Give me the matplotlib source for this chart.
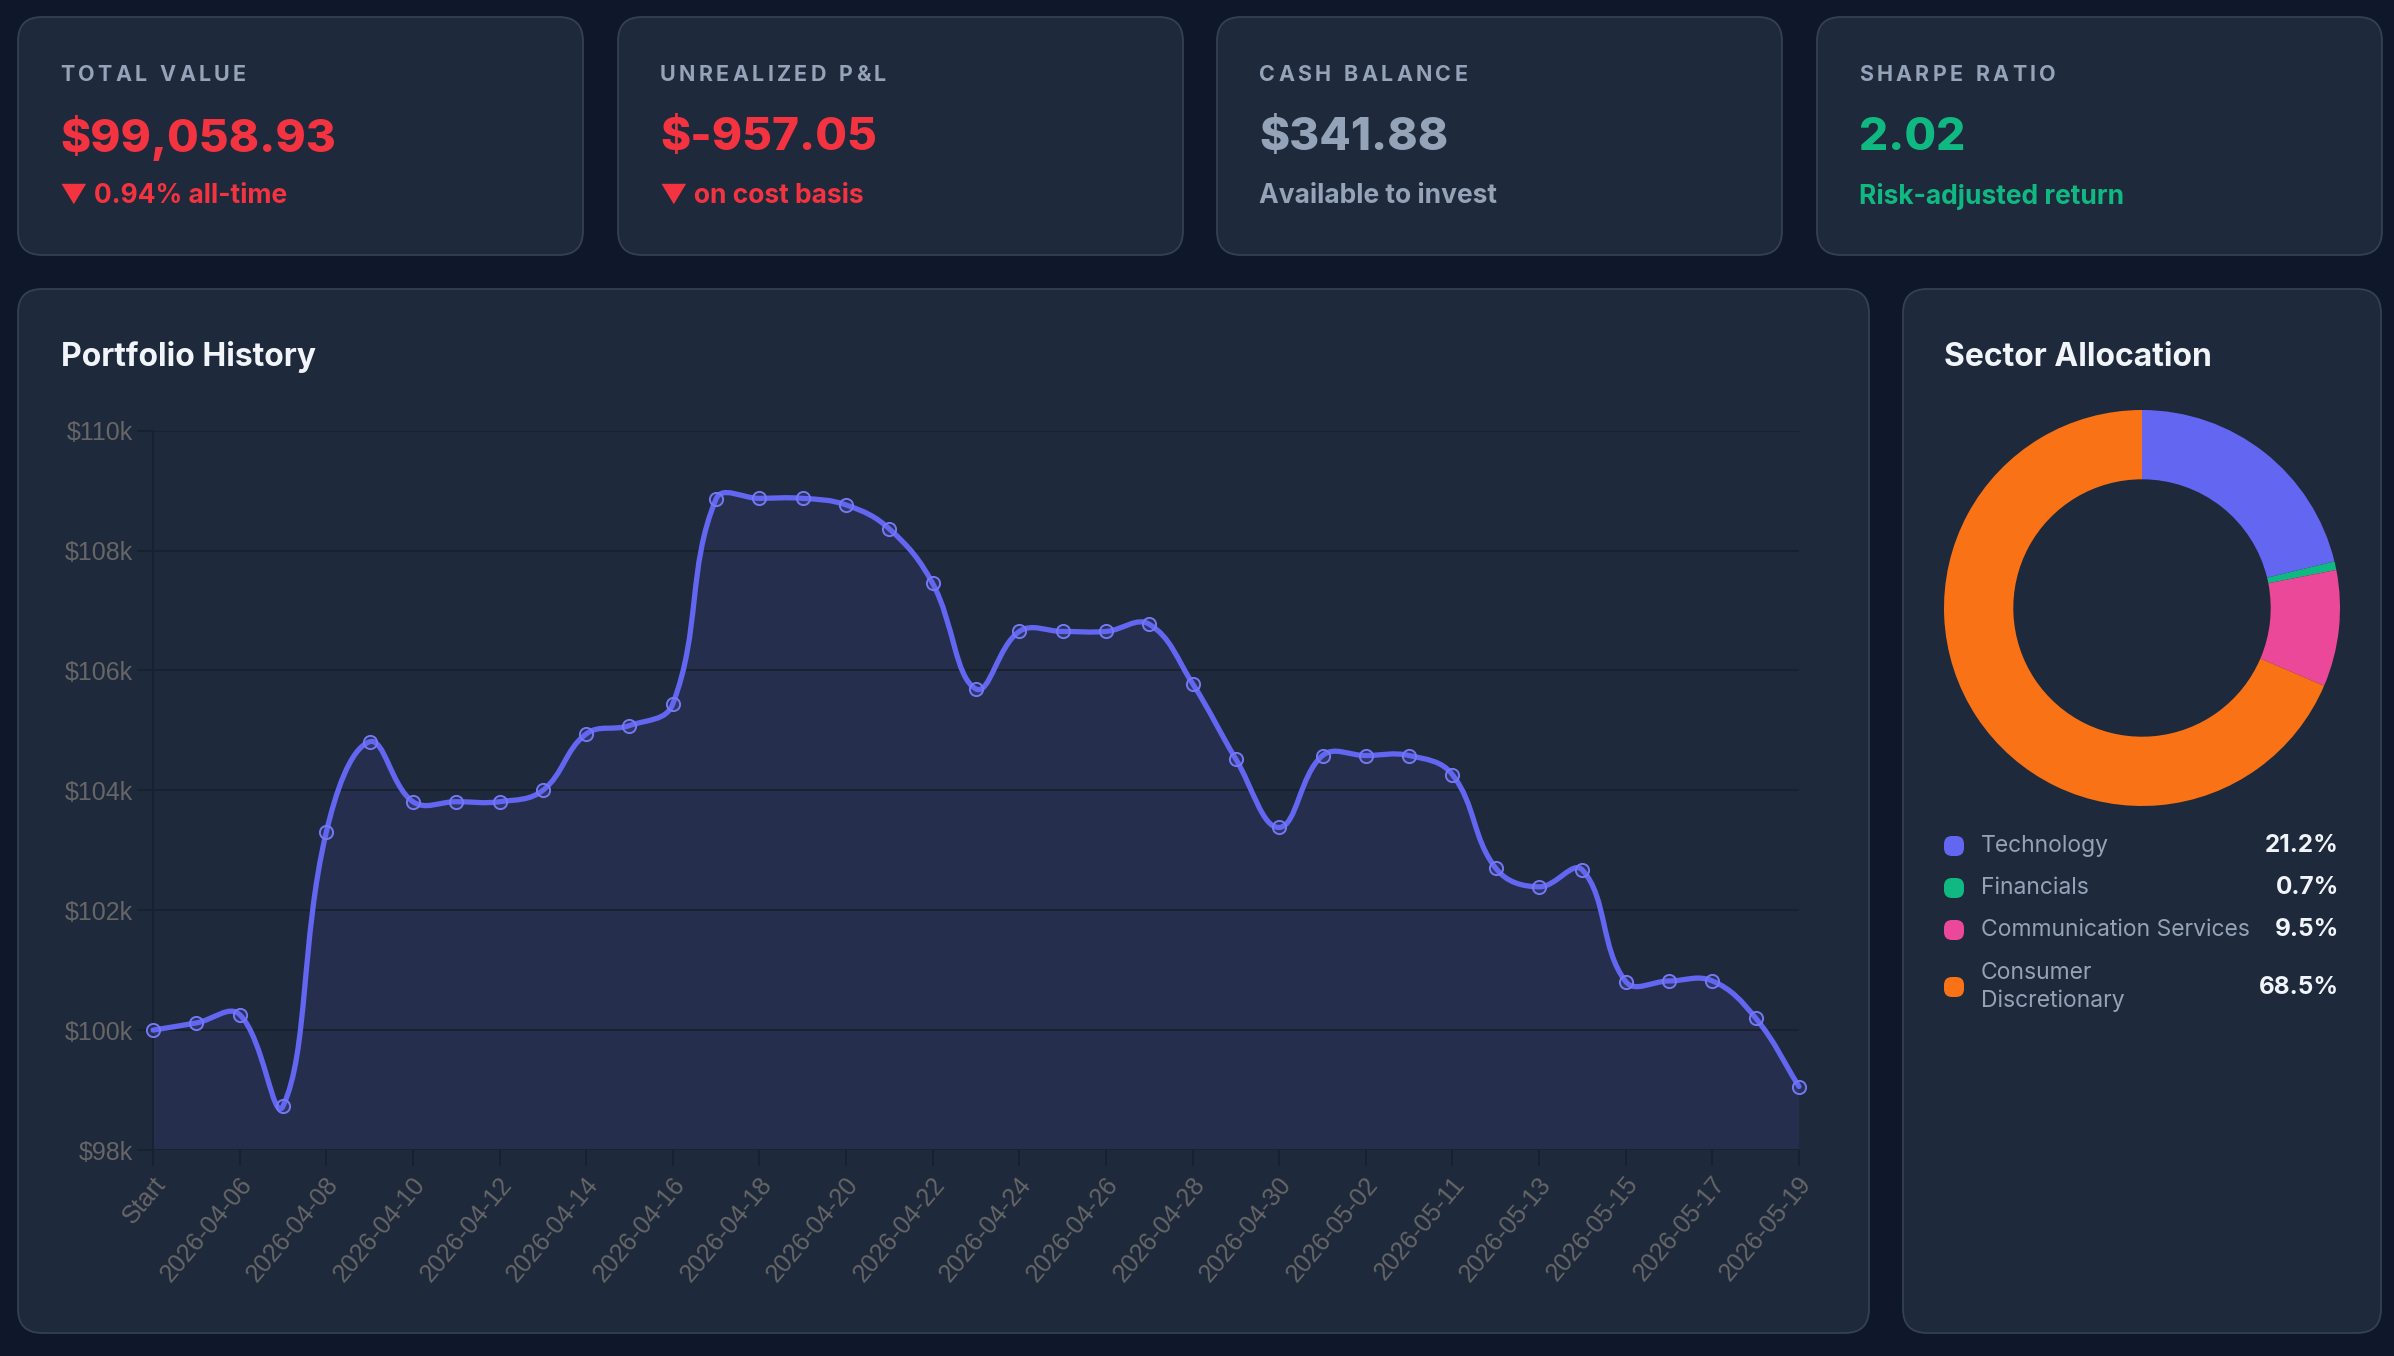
import matplotlib
matplotlib.use('Agg')
import matplotlib.pyplot as plt
from matplotlib.patches import FancyBboxPatch, PathPatch
from matplotlib.path import Path
from matplotlib.transforms import ScaledTranslation
import numpy as np

# ---------------- data ----------------
kpi_labels = ['TOTAL VALUE', 'UNREALIZED P&L', 'CASH BALANCE', 'SHARPE RATIO']
kpi_values = ['$99,058.93', '$-957.05', '$341.88', '2.02']
kpi_subs = ['▼ 0.94% all-time', '▼ on cost basis', 'Available to invest', 'Risk-adjusted return']

dates = ['Start', '2026-04-05', '2026-04-06', '2026-04-07', '2026-04-08', '2026-04-09',
         '2026-04-10', '2026-04-11', '2026-04-12', '2026-04-13', '2026-04-14', '2026-04-15',
         '2026-04-16', '2026-04-17', '2026-04-18', '2026-04-19', '2026-04-20', '2026-04-21',
         '2026-04-22', '2026-04-23', '2026-04-24', '2026-04-25', '2026-04-26', '2026-04-27',
         '2026-04-28', '2026-04-29', '2026-04-30', '2026-05-01', '2026-05-02', '2026-05-10',
         '2026-05-11', '2026-05-12', '2026-05-13', '2026-05-14', '2026-05-15', '2026-05-16',
         '2026-05-17', '2026-05-18', '2026-05-19']
portfolio_values = [100000, 100120, 100260, 98730, 103300, 104810, 103810, 103810, 103810,
                    104000, 104940, 105080, 105440, 108860, 108870, 108870, 108760, 108360,
                    107450, 105690, 106650, 106650, 106650, 106770, 105780, 104520, 103380,
                    104580, 104580, 104580, 104260, 102700, 102390, 102670, 100810, 100820,
                    100820, 100200, 99058.93]
y_ticks = [98000, 100000, 102000, 104000, 106000, 108000, 110000]
y_tick_labels = ['$98k', '$100k', '$102k', '$104k', '$106k', '$108k', '$110k']

sectors = ['Technology', 'Financials', 'Communication Services', 'Consumer\nDiscretionary']
sector_shares = [21.2, 0.7, 9.5, 68.5]

# ---------------- style ----------------
BG = '#0f172a'
CARD = '#1e293b'
BORDER = '#334155'
SLATE = '#94a3b8'
RED = '#f43340'
GREEN = '#10b981'
INDIGO = '#6366f1'
WHITE = '#f1f5f9'
GRID = '#19212f'
TICK = '#666666'
sector_colors = ['#6366f1', '#10b981', '#ec4899', '#f97316']
kpi_colors = [RED, RED, SLATE, GREEN]
UI = ['Inter', 'DejaVu Sans']
CH = ['Liberation Sans', 'DejaVu Sans']

W, H = 2394, 1356
DPI = 100
fig = plt.figure(figsize=(W / DPI, H / DPI), dpi=DPI)
fig.patch.set_facecolor(BG)

bg = fig.add_axes([0, 0, 1, 1])
bg.set_xlim(0, W)
bg.set_ylim(H, 0)
bg.axis('off')
bg.set_zorder(0)


def px2fig(x0, y0, x1, y1):
    return [x0 / W, 1 - y1 / H, (x1 - x0) / W, (y1 - y0) / H]


def card(x0, y0, x1, y1):
    bg.add_patch(FancyBboxPatch((x0, y0), x1 - x0, y1 - y0,
                                boxstyle='round,pad=0,rounding_size=24',
                                fc=CARD, ec=BORDER, lw=1.3))


renderer = fig.canvas.get_renderer()


def spaced_text(x, y, s, spacing, **kw):
    for ch in s:
        if ch == ' ':
            x += kw.get('fontsize', 16) * 0.3 * DPI / 72 + spacing
            continue
        t = bg.text(x, y, ch, **kw)
        bb = t.get_window_extent(renderer)
        x += bb.width + spacing


# KPI cards
card_x = [18, 618, 1217, 1817]
card_w = 565
for i in range(4):
    x0 = card_x[i]
    card(x0, 17, x0 + card_w, 255)
    tx = x0 + 42
    spaced_text(tx, 75, kpi_labels[i], 3.3, fontsize=15.5, fontweight='bold',
                color=SLATE, family=UI, va='center', ha='left')
    bg.text(tx, 138, kpi_values[i], fontsize=33, fontweight='heavy', color=kpi_colors[i],
            family=UI, va='center', ha='left')
    bg.text(tx, 196, kpi_subs[i], fontsize=19, fontweight='bold', color=kpi_colors[i],
            family=UI, va='center', ha='left')

# Big cards
card(18, 289, 1869, 1333)
card(1903, 289, 2381, 1333)
bg.text(61, 357, 'Portfolio History', fontsize=23, fontweight='bold', color=WHITE,
        family=UI, va='center', ha='left')
bg.text(1944, 357, 'Sector Allocation', fontsize=23, fontweight='bold', color=WHITE,
        family=UI, va='center', ha='left')

# ---------------- line chart ----------------
ax = fig.add_axes(px2fig(153, 430.6, 1799, 1150))
ax.set_zorder(1)
ax.set_facecolor('none')
xs = np.arange(len(portfolio_values))
ys = np.array(portfolio_values, dtype=float)
ax.set_xlim(0, len(xs) - 1)
ax.set_ylim(y_ticks[0], y_ticks[-1])

# Chart.js-style cubic spline (tension 0.4)
pts = ax.transData.transform(np.column_stack([xs, ys]))
n = len(pts)
bb = ax.bbox
prev_cp = []
next_cp = []
tension = 0.4
for i in range(n):
    p1 = pts[i]
    p0 = pts[i - 1] if i > 0 else p1
    p2 = pts[i + 1] if i < n - 1 else p1
    d01 = np.hypot(*(p1 - p0))
    d12 = np.hypot(*(p2 - p1))
    tot = d01 + d12
    s01 = d01 / tot if tot > 0 else 0
    s12 = d12 / tot if tot > 0 else 0
    pc = p1 - tension * s01 * (p2 - p0)
    nc = p1 + tension * s12 * (p2 - p0)
    pc = np.array([np.clip(pc[0], bb.x0, bb.x1), np.clip(pc[1], bb.y0, bb.y1)])
    nc = np.array([np.clip(nc[0], bb.x0, bb.x1), np.clip(nc[1], bb.y0, bb.y1)])
    prev_cp.append(pc)
    next_cp.append(nc)

verts = [pts[0]]
codes = [Path.MOVETO]
for i in range(n - 1):
    verts += [next_cp[i], prev_cp[i + 1], pts[i + 1]]
    codes += [Path.CURVE4] * 3
inv = ax.transData.inverted()
dverts = inv.transform(np.array(verts))
line_path = Path(dverts, codes)

fill_verts = np.vstack([dverts, [[xs[-1], y_ticks[0]], [xs[0], y_ticks[0]], [xs[0], ys[0]]]])
fill_codes = codes + [Path.LINETO, Path.LINETO, Path.CLOSEPOLY]
ax.add_patch(PathPatch(Path(fill_verts, fill_codes), fc=INDIGO, alpha=0.1, lw=0, zorder=1))
ax.add_patch(PathPatch(line_path, fill=False, ec=INDIGO, lw=3.8, capstyle='round',
                       joinstyle='round', zorder=3, clip_on=False))
ax.plot(xs, ys, 'o', ms=9.5, mfc=(0.39, 0.40, 0.95, 0.15), mec='#7578f3', mew=1.4,
        zorder=4, clip_on=False)

ax.set_yticks(y_ticks)
ax.set_yticklabels(y_tick_labels)
ax.set_xticks(xs[::2])
ax.set_xticklabels(dates[::2])
ax.grid(axis='y', color=GRID, lw=1.3, zorder=0)
ax.grid(axis='x', visible=False)
for s in ['top', 'right', 'bottom']:
    ax.spines[s].set_visible(False)
ax.spines['left'].set_color(GRID)
ax.spines['left'].set_linewidth(1.3)
ax.tick_params(axis='y', length=11.5, width=1.3, color=GRID, pad=3, labelcolor=TICK,
               labelsize=18)
ax.tick_params(axis='x', length=11.5, width=1.3, color=GRID, pad=10, labelcolor=TICK,
               labelsize=18)
for lab in ax.get_yticklabels():
    lab.set_family(CH)
off = ScaledTranslation(8 / DPI, 0, fig.dpi_scale_trans)
for lab in ax.get_xticklabels():
    lab.set_family(CH)
    lab.set_rotation(50)
    lab.set_ha('right')
    lab.set_va('center')
    lab.set_rotation_mode('anchor')
    lab.set_transform(lab.get_transform() + off)

# ---------------- donut ----------------
cx, cy, r = 2142, 608, 198
axd = fig.add_axes(px2fig(cx - r, cy - r, cx + r, cy + r))
axd.set_zorder(1)
axd.pie(sector_shares, colors=sector_colors, startangle=90, counterclock=False, radius=1,
        wedgeprops=dict(width=0.35, edgecolor='none', linewidth=0))
axd.set_xlim(-1, 1)
axd.set_ylim(-1, 1)
axd.set_aspect('equal')
axd.axis('off')

legend_y = [846, 888, 930, 987]
for i, (name, share) in enumerate(zip(sectors, sector_shares)):
    yy = legend_y[i]
    bg.add_patch(FancyBboxPatch((1944, yy - 10), 20, 20,
                                boxstyle='round,pad=0,rounding_size=8',
                                fc=sector_colors[i], ec='none'))
    bg.text(1981, yy, name, fontsize=16.5, color=SLATE, family=UI, va='center', ha='left',
            linespacing=1.3)
    bg.text(2339, yy, f'{share:.1f}%', fontsize=17.5, fontweight='bold', color=WHITE,
            family=UI, va='center', ha='right')

fig.savefig('out.png', dpi=DPI, facecolor=BG)
